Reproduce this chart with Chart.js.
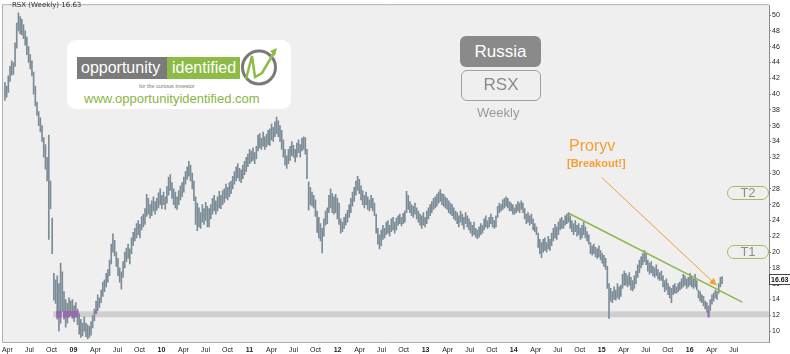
<!doctype html>
<html>

<head>
    <title>RSX Weekly</title>
    <script src="https://cdn.jsdelivr.net/npm/chart.js"></script>
    <style>
        body { margin: 0; background: #fff; font-family: "Liberation Sans", Arial, sans-serif; }
        #wrap { position: relative; width: 790px; height: 354px; overflow: hidden; }
        #box { position: absolute; left: 0; top: 0; width: 790px; height: 354px; }
        .lbl { position: absolute; white-space: nowrap; line-height: 1; }
        .tgt { position: absolute; left: 727px; width: 42px; height: 14px; box-sizing: border-box;
               border: 1.6px solid #9dc25b; border-radius: 8px; color: #8d8d8d; font-size: 13px;
               line-height: 11px; text-align: center; }
    </style>
</head>

<body>
    <div id="wrap">
        <div id="box"><canvas id="rsxChart"></canvas></div>

        <div class="lbl" style="left:12px; top:2px; font-family:'DejaVu Sans'; font-size:7px; color:#333;">RSX (Weekly) 16.63</div>

        <!-- logo -->
        <div style="position:absolute; left:67px; top:40px; width:224px; height:69px; background:#fff; border-radius:9px;"></div>
        <div class="lbl" style="left:77px; top:57px; width:90px; height:22px; background:#7b7b7b; color:#fff; font-size:16px; line-height:22px; padding-left:4px; box-sizing:border-box;">opportunity</div>
        <div class="lbl" style="left:167px; top:57px; width:73px; height:22px; background:#8cbb46; color:#fff; font-size:16px; line-height:22px; padding-left:5px; box-sizing:border-box;">identified</div>
        <svg style="position:absolute; left:238px; top:46px;" width="44" height="44" viewBox="0 0 44 44">
            <circle cx="21" cy="21.5" r="16.5" fill="none" stroke="#7a7a7a" stroke-width="3"/>
            <path d="M8 33 L14 10 L17 31 L24 27 L37 5" fill="none" stroke="#8cbb46" stroke-width="2.5"/>
            <polygon points="39,2 32,5 37,10" fill="#8cbb46"/>
        </svg>
        <div class="lbl" style="left:139px; top:84px; font-size:5.5px; color:#777;">for the curious investor</div>
        <div class="lbl" style="left:84px; top:92px; font-size:13px; color:#8ab53f;">www.opportunityidentified.com</div>

        <!-- title boxes -->
        <div class="lbl" style="left:460px; top:36px; width:81px; height:31px; background:#8a8a8a; border-radius:6px; color:#fff; font-size:17px; line-height:31px; text-align:center;">Russia</div>
        <div class="lbl" style="left:461px; top:70px; width:80px; height:31px; box-sizing:border-box; border:1.5px solid #a0a0a0; border-radius:6px; color:#8a8a8a; font-size:17px; line-height:28px; text-align:center;">RSX</div>
        <div class="lbl" style="left:477px; top:106px; font-size:13px; color:#9a9a9a;">Weekly</div>

        <div class="lbl" style="left:569px; top:138px; font-size:16px; color:#f5a030;">Proryv</div>
        <div class="lbl" style="left:567px; top:158px; font-size:11px; font-weight:bold; color:#f5a030;">[Breakout!]</div>

        <div class="tgt" style="top:186px;">T2</div>
        <div class="tgt" style="top:245px;">T1</div>

        <div class="lbl" style="left:769px; top:274px; height:9px; padding:0 1px; border:1px solid #444; background:#fff; font-size:7px; line-height:9px; font-weight:bold; color:#111;">16.63</div>
    </div>

    <script>
        var startYear = 2008.222;      // first weekly bar
        var weekYears = 7 / 365.25;

        var highs = [
            41.5, 41.0, 42.3, 43.5, 44.2, 44.0, 46.5, 49.0, 50.3, 49.8,
            49.5, 48.8, 48.0, 47.2, 46.0, 45.0, 44.2, 42.8, 41.0, 39.0,
            37.8, 37.0, 36.0, 34.5, 33.6, 32.0, 34.8, 29.0, 24.3, 17.3,
            16.5, 17.0, 16.0, 18.6, 17.5, 15.0, 14.0, 13.5, 14.2, 13.8,
            14.0, 13.2, 13.6, 12.8, 12.2, 11.5, 11.0, 11.8, 11.0, 10.8,
            10.6, 11.2, 12.0, 12.8, 13.8, 14.6, 14.2, 15.2, 16.2, 16.5,
            17.3, 17.8, 19.0, 21.0, 22.3, 21.5, 20.0, 19.2, 18.0, 17.5,
            18.8, 20.0, 20.5, 21.0, 20.4, 21.8, 22.5, 23.0, 23.6, 24.0,
            23.5, 24.5, 24.8, 25.5, 27.3, 26.8, 26.0, 26.5, 27.0, 26.4,
            26.8, 27.5, 28.0, 27.2, 27.6, 27.0, 28.3, 29.5, 29.8, 28.8,
            28.0, 27.6, 27.0, 27.8, 28.4, 28.8, 29.5, 30.2, 30.8, 31.5,
            31.0, 30.0, 29.0, 27.0, 26.2, 25.6, 25.0, 26.0, 25.5, 26.3,
            25.8, 25.5, 26.0, 26.8, 27.2, 26.5, 27.0, 27.7, 27.2, 27.8,
            28.0, 28.6, 28.2, 28.8, 29.0, 29.6, 30.2, 30.8, 31.2, 30.6,
            30.4, 31.0, 31.5, 32.0, 32.4, 33.0, 32.8, 33.2, 32.6, 33.4,
            34.8, 35.0, 34.4, 35.2, 34.6, 34.9, 35.4, 35.6, 36.2, 35.8,
            36.5, 37.1, 36.6, 36.0, 35.4, 34.2, 33.0, 32.2, 33.0, 33.4,
            34.0, 33.5, 33.0, 33.8, 34.2, 33.6, 34.4, 34.6, 34.5, 33.0,
            28.9, 28.2, 27.6, 27.2, 26.6, 25.2, 24.4, 23.6, 23.0, 24.2,
            25.2, 25.6, 27.2, 28.0, 27.4, 27.0, 27.3, 26.8, 26.2, 24.2,
            23.8, 24.4, 24.8, 25.3, 26.0, 26.8, 27.6, 28.2, 29.0, 29.6,
            29.2, 28.4, 27.8, 27.2, 27.6, 27.0, 26.6, 27.2, 26.8, 26.2,
            24.8, 23.0, 22.2, 22.8, 23.4, 23.0, 23.8, 24.0, 23.4, 24.2,
            24.4, 23.8, 24.3, 24.6, 24.8, 24.4, 24.9, 25.2, 27.7, 27.2,
            26.4, 26.0, 25.8, 26.2, 25.6, 25.2, 24.8, 24.6, 25.0, 24.4,
            25.2, 25.6, 26.0, 26.4, 26.8, 27.0, 27.3, 27.6, 27.9, 27.4,
            27.3, 27.0, 26.8, 26.5, 26.2, 26.0, 25.6, 25.2, 25.0, 24.6,
            25.2, 24.8, 24.4, 25.0, 24.6, 24.2, 23.8, 23.4, 23.8, 23.0,
            22.8, 23.2, 23.6, 23.4, 24.2, 24.6, 24.0, 24.4, 24.8, 24.4,
            24.0, 24.6, 25.8, 26.2, 26.0, 26.6, 26.8, 27.0, 26.8, 26.4,
            26.2, 26.0, 25.6, 26.0, 26.4, 26.2, 26.5, 26.2, 25.5, 24.8,
            25.0, 24.6, 24.8, 24.2, 23.6, 23.2, 22.4, 21.6, 21.2, 21.6,
            21.8, 21.2, 22.0, 21.6, 22.4, 23.0, 23.5, 23.2, 23.8, 24.2,
            24.4, 24.0, 24.6, 24.8, 25.0, 24.6, 24.0, 23.6, 24.0, 23.4,
            23.6, 23.0, 23.4, 23.8, 23.2, 22.6, 22.2, 21.2, 20.8, 21.0,
            20.6, 20.4, 20.8, 20.2, 19.8, 19.6, 19.2, 18.2, 16.0, 15.4,
            15.0, 15.6, 15.2, 16.0, 15.6, 15.8, 17.2, 17.6, 17.3, 17.0,
            17.4, 16.8, 16.4, 17.0, 17.6, 18.4, 19.0, 19.4, 19.8, 20.2,
            19.8, 19.0, 18.6, 18.8, 18.2, 18.0, 18.4, 17.8, 17.4, 17.6,
            17.0, 16.4, 16.6, 16.0, 15.6, 15.4, 15.8, 16.0, 15.6, 16.0,
            16.2, 16.6, 17.2, 17.0, 16.6, 16.8, 17.3, 17.0, 16.6, 17.2,
            16.4, 15.2, 15.0, 14.6, 14.4, 13.8, 13.6, 13.2, 14.0, 14.6,
            14.8, 15.2, 15.0, 16.0, 16.8, 16.9
        ];

        var lows = [
            39.2, 39.6, 40.2, 41.6, 42.4, 42.5, 43.5, 45.8, 48.0, 47.6,
            47.5, 47.0, 46.2, 45.0, 44.0, 43.2, 42.3, 40.0, 38.5, 37.3,
            36.0, 35.2, 34.0, 32.0, 30.5, 29.0, 21.6, 25.5, 19.8, 13.9,
            13.5, 11.5, 10.0, 11.0, 12.5, 11.5, 10.5, 11.0, 11.8, 12.0,
            11.6, 11.2, 11.8, 10.8, 9.6, 9.2, 9.4, 10.0, 9.3, 9.0,
            9.2, 9.5, 10.4, 11.3, 12.2, 12.6, 13.0, 13.6, 14.4, 15.0,
            15.6, 16.2, 17.0, 18.5, 20.0, 19.5, 18.2, 17.0, 16.2, 15.3,
            16.8, 18.0, 18.8, 19.2, 18.5, 19.8, 20.8, 21.4, 21.8, 22.2,
            21.8, 22.8, 23.2, 23.5, 24.5, 24.8, 24.3, 24.6, 25.2, 24.8,
            25.3, 25.6, 26.0, 25.5, 26.0, 25.4, 26.2, 27.2, 27.8, 26.8,
            26.0, 25.6, 25.4, 26.0, 26.6, 27.0, 27.6, 28.6, 29.2, 29.6,
            29.0, 28.0, 26.5, 23.5, 22.7, 23.2, 23.0, 23.8, 23.5, 24.0,
            23.2, 23.2, 24.2, 24.8, 25.2, 24.8, 25.2, 25.6, 25.5, 26.0,
            26.3, 26.8, 26.6, 27.0, 27.4, 28.0, 28.6, 29.0, 29.4, 29.0,
            28.8, 29.3, 29.8, 30.2, 30.8, 31.2, 31.4, 31.6, 31.2, 31.8,
            32.8, 33.2, 33.0, 33.4, 33.0, 33.3, 33.6, 33.5, 34.2, 34.0,
            34.6, 35.0, 34.6, 34.0, 33.0, 32.0, 31.0, 30.6, 31.2, 31.6,
            32.2, 32.0, 31.4, 32.0, 32.6, 32.0, 32.8, 33.0, 32.4, 29.3,
            25.3, 26.0, 25.8, 25.6, 24.5, 22.5, 21.8, 21.4, 19.9, 22.0,
            23.4, 23.6, 25.0, 25.6, 25.0, 24.8, 25.0, 24.2, 23.5, 22.4,
            22.6, 23.0, 23.4, 23.8, 24.4, 25.0, 25.8, 26.4, 27.2, 27.8,
            27.4, 26.6, 26.0, 25.6, 26.0, 25.4, 25.2, 25.6, 25.2, 24.6,
            22.4, 21.0, 20.4, 20.8, 21.6, 21.8, 22.2, 22.4, 22.0, 22.6,
            22.8, 22.4, 22.8, 23.4, 23.6, 23.3, 23.6, 23.8, 25.0, 25.4,
            25.0, 24.6, 24.4, 24.8, 24.2, 23.8, 23.4, 23.0, 23.4, 23.2,
            23.6, 24.2, 24.6, 25.0, 25.4, 25.6, 25.8, 26.2, 26.4, 26.0,
            25.8, 25.6, 25.4, 25.0, 24.8, 24.6, 24.2, 24.0, 23.6, 23.2,
            23.8, 23.4, 22.9, 23.6, 23.2, 22.8, 22.4, 22.0, 22.2, 21.9,
            21.7, 21.9, 22.2, 22.4, 22.8, 23.2, 23.0, 23.2, 23.6, 23.2,
            23.0, 23.2, 24.4, 25.0, 25.2, 25.4, 25.6, 25.8, 25.6, 25.2,
            25.2, 24.8, 24.8, 25.0, 25.2, 25.0, 25.4, 25.0, 24.2, 23.6,
            23.8, 23.4, 23.6, 22.8, 22.6, 22.2, 20.6, 19.8, 19.3, 20.0,
            20.2, 20.0, 20.4, 20.2, 20.8, 21.4, 21.8, 21.6, 22.2, 22.8,
            23.0, 23.0, 23.4, 23.6, 23.8, 23.0, 22.6, 22.2, 22.6, 22.0,
            22.2, 21.6, 21.8, 22.2, 21.8, 21.4, 21.0, 19.8, 19.6, 19.8,
            19.4, 19.2, 19.4, 19.0, 18.6, 18.2, 17.8, 15.4, 11.6, 13.8,
            13.6, 14.0, 13.9, 14.2, 14.0, 14.4, 15.4, 15.8, 15.8, 15.6,
            15.8, 15.2, 15.1, 15.4, 16.0, 16.8, 17.4, 18.0, 18.4, 18.8,
            18.4, 17.6, 17.2, 17.4, 17.0, 16.8, 17.0, 16.6, 16.4, 16.4,
            15.6, 15.0, 15.2, 14.6, 14.2, 13.6, 14.6, 14.8, 14.8, 15.0,
            15.2, 15.4, 15.6, 15.8, 15.4, 15.6, 15.8, 15.6, 15.4, 15.6,
            15.2, 14.2, 13.8, 13.6, 13.2, 12.8, 12.4, 11.8, 12.6, 13.4,
            13.8, 14.2, 14.0, 14.8, 15.6, 16.0
        ];

        var tickLabels = ['Apr', 'Jul', 'Oct', '09', 'Apr', 'Jul', 'Oct', '10', 'Apr', 'Jul', 'Oct', '11',
            'Apr', 'Jul', 'Oct', '12', 'Apr', 'Jul', 'Oct', '13', 'Apr', 'Jul', 'Oct', '14',
            'Apr', 'Jul', 'Oct', '15', 'Apr', 'Jul', 'Oct', '16', 'Apr', 'Jul'];
        var firstTick = 2008.25;       // Apr 2008, one tick per quarter

        var supportBand = [11.75, 12.5];
        var bandFrom = 2008.77;
        var purpleWeeks = [31, 32, 33, 35, 36, 37, 38, 39, 40, 41, 42, 43, 54, 417];

        var trendLine = [{ x: 2014.63, y: 24.88 }, { x: 2016.596, y: 13.67 }];
        var breakoutArrow = [{ x: 2015.0, y: 29.44 }, { x: 2016.306, y: 15.77 }];

        var bars = highs.map(function (h, i) {
            return { x: startYear + i * weekYears, y: [lows[i], h] };
        });
        var purpleBars = purpleWeeks.filter(function (i) {
            return lows[i] < supportBand[1] && highs[i] > supportBand[0];
        }).map(function (i) {
            return { x: startYear + i * weekYears, y: [Math.max(lows[i], supportBand[0]), Math.min(highs[i], supportBand[1])] };
        });
        var tickValues = tickLabels.map(function (t, i) { return firstTick + i * 0.25; });

        var backdrop = {
            id: 'backdrop',
            beforeDraw: function (chart) {
                var a = chart.chartArea, c = chart.ctx;
                c.save();
                c.fillStyle = '#efefef';
                c.fillRect(a.left, a.top, a.right - a.left, a.bottom - a.top);
                c.restore();
            },
            beforeDatasetsDraw: function (chart) {
                var a = chart.chartArea, c = chart.ctx, xs = chart.scales.x, ys = chart.scales.y;
                var y1 = ys.getPixelForValue(supportBand[1]), y0 = ys.getPixelForValue(supportBand[0]);
                var x0 = xs.getPixelForValue(bandFrom);
                c.save();
                c.fillStyle = '#cfcfcf';
                c.fillRect(x0, y1, a.right - x0, y0 - y1);
                c.restore();
            },
            afterDatasetsDraw: function (chart) {
                var c = chart.ctx, xs = chart.scales.x, ys = chart.scales.y;
                var p = breakoutArrow[0], q = breakoutArrow[1];
                var x1 = xs.getPixelForValue(p.x), y1 = ys.getPixelForValue(p.y);
                var x2 = xs.getPixelForValue(q.x), y2 = ys.getPixelForValue(q.y);
                var ang = Math.atan2(y2 - y1, x2 - x1);
                c.save();
                c.fillStyle = '#f7a02c';
                c.beginPath();
                c.moveTo(x2, y2);
                c.lineTo(x2 - 8 * Math.cos(ang - 0.45), y2 - 8 * Math.sin(ang - 0.45));
                c.lineTo(x2 - 8 * Math.cos(ang + 0.45), y2 - 8 * Math.sin(ang + 0.45));
                c.closePath();
                c.fill();
                c.restore();
            },
            afterDraw: function (chart) {
                var a = chart.chartArea, c = chart.ctx;
                c.save();
                c.strokeStyle = '#a7b1b0';
                c.lineWidth = 1;
                c.beginPath();
                c.moveTo(a.right, a.top - 0.5);
                c.lineTo(a.left - 0.5, a.top - 0.5);
                c.lineTo(a.left - 0.5, a.bottom + 0.5);
                c.lineTo(a.right, a.bottom + 0.5);
                c.stroke();
                c.restore();
            }
        };

        var rsxChart = new Chart(document.getElementById('rsxChart').getContext('2d'), {
            type: 'bar',
            data: {
                datasets: [{
                    type: 'bar',
                    data: bars,
                    backgroundColor: '#7b8c97',
                    barThickness: 1,
                    grouped: false,
                    order: 3
                }, {
                    type: 'bar',
                    data: purpleBars,
                    backgroundColor: '#9a68ae',
                    barThickness: 1.4,
                    grouped: false,
                    order: 2
                }, {
                    type: 'line',
                    data: trendLine,
                    borderColor: '#8cb84c',
                    borderWidth: 1.6,
                    pointRadius: 0,
                    order: 1
                }, {
                    type: 'line',
                    data: breakoutArrow,
                    borderColor: '#f7a02c',
                    borderWidth: 1,
                    pointRadius: 0,
                    order: 0
                }]
            },
            options: {
                responsive: true,
                maintainAspectRatio: false,
                animation: false,
                layout: { padding: { left: 3, top: 2, right: 0, bottom: 0 } },
                plugins: { legend: { display: false }, tooltip: { enabled: false } },
                scales: {
                    x: {
                        type: 'linear',
                        min: 2008.2,
                        max: 2016.9,
                        offset: false,
                        grid: { display: false },
                        border: { display: false },
                        afterBuildTicks: function (s) {
                            s.ticks = tickValues.map(function (v) { return { value: v }; });
                        },
                        afterFit: function (s) { s.height = 12; },
                        ticks: {
                            autoSkip: false,
                            maxRotation: 0,
                            minRotation: 0,
                            padding: -4,
                            color: '#222',
                            font: function (c) {
                                var t = tickLabels[c.index] || '';
                                return { family: 'Liberation Sans', size: 7, weight: /^\d/.test(t) ? 'bold' : 'normal' };
                            },
                            callback: function (v, i) { return tickLabels[i]; }
                        }
                    },
                    y: {
                        position: 'right',
                        min: 8.62,
                        max: 51.25,
                        grid: { drawOnChartArea: false, tickLength: 2, color: '#888' },
                        border: { display: true, dash: [1, 1], color: '#8a8a8a' },
                        afterFit: function (s) { s.width = 21; },
                        ticks: {
                            stepSize: 2,
                            includeBounds: false,
                            padding: 1,
                            color: '#222',
                            font: { family: 'Liberation Sans', size: 7 }
                        }
                    }
                }
            },
            plugins: [backdrop]
        });
    </script>
</body>

</html>
